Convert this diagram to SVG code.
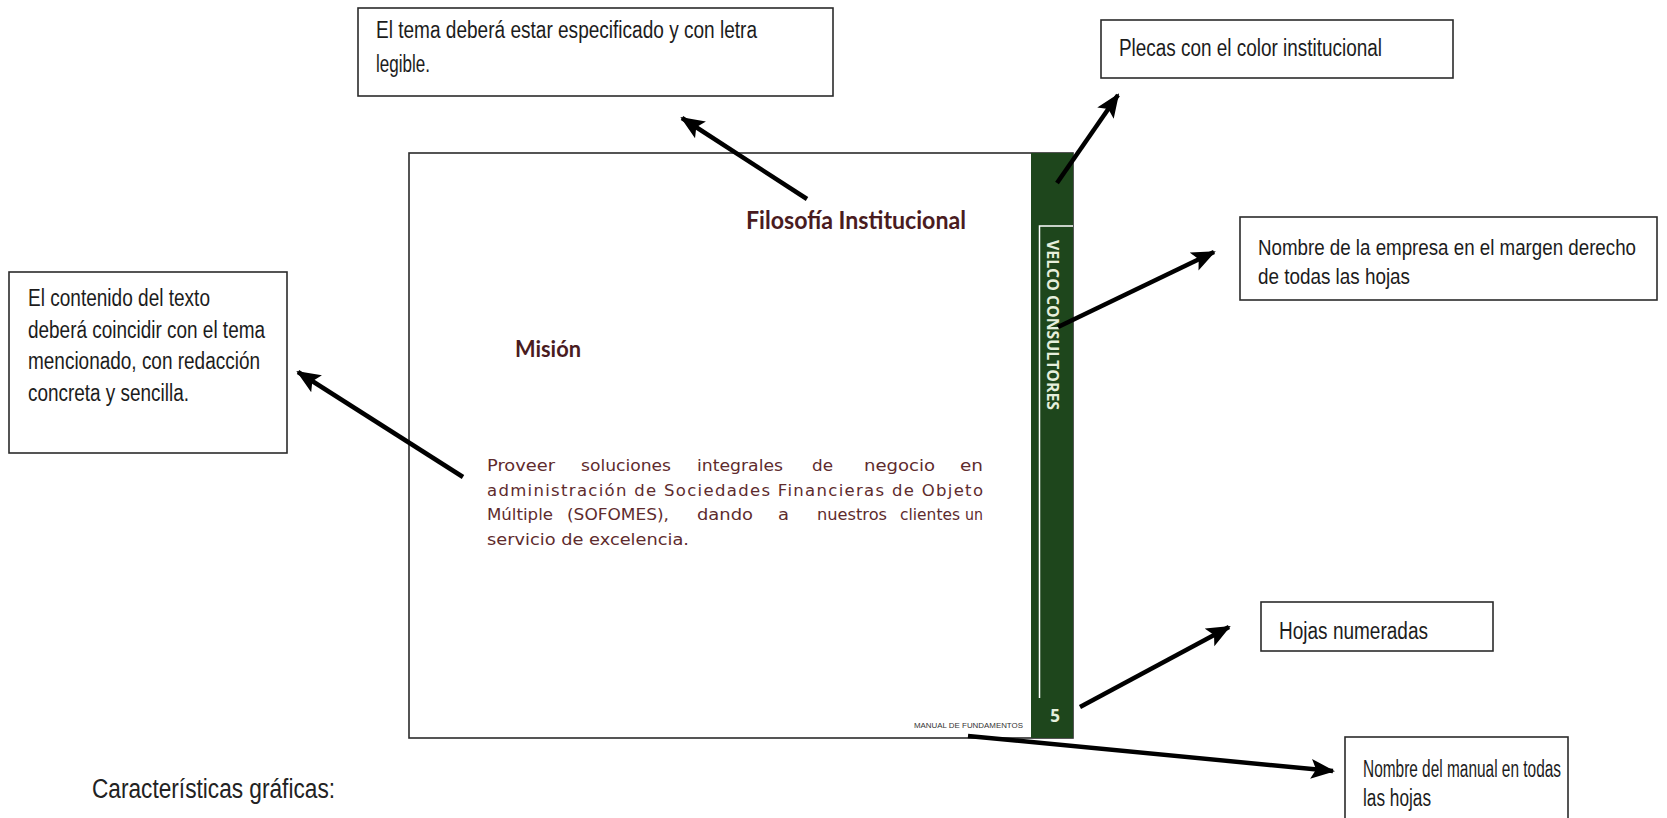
<svg xmlns="http://www.w3.org/2000/svg" width="1667" height="818" viewBox="0 0 1667 818">
  <defs>
    <style>
      .note { fill: #ffffff; stroke: #2b2b2b; stroke-width: 1.6; }
      .nt { font-family: "Liberation Sans", Arial, sans-serif; font-size: 23px; fill: #1c1c1c; }
      .nt22 { font-family: "Liberation Sans", Arial, sans-serif; font-size: 22px; fill: #1c1c1c; }
      .page { fill: #ffffff; stroke: #2b2b2b; stroke-width: 1.6; }
      .bar { fill: #1e461c; }
      .barline { fill: none; stroke: #ffffff; stroke-width: 1.5; }
      .title { font-family: Lato, "Noto Sans", sans-serif; font-weight: 700; fill: #4a1c1f; }
      .body { font-family: "DejaVu Sans", "Noto Sans", sans-serif; font-size: 16.5px; fill: #5e2b2d; }
      .white { font-family: "Open Sans", "Noto Sans", sans-serif; font-weight: 700; fill: #e6efdc; }
      .arrow { fill: none; stroke: #000000; stroke-width: 4.5; marker-end: url(#head); }
    </style>
    <marker id="head" markerUnits="userSpaceOnUse" markerWidth="24" markerHeight="22" viewBox="0 0 24 22" refX="22" refY="11" orient="auto">
      <path d="M0,1 L24,11 L0,21 L5,11 Z" fill="#000000"/>
    </marker>
  </defs>

  <rect width="1667" height="818" fill="#ffffff"/>

  <!-- page mock-up -->
  <g id="page">
    <rect class="page" x="409" y="153" width="664" height="585"/>
    <rect class="bar" x="1031" y="153" width="42" height="585"/>
    <path class="barline" d="M1073,226 H1039.5 V698"/>
    <text class="white" font-size="16" transform="translate(1047,240) rotate(90)" textLength="170" lengthAdjust="spacingAndGlyphs">VELCO CONSULTORES</text>
    <text class="white" font-size="17" x="1055" y="722" text-anchor="middle">5</text>
    <text class="title" font-size="24" x="746" y="229" textLength="220" lengthAdjust="spacingAndGlyphs">Filosofía Institucional</text>
    <text class="title" font-size="22" x="515" y="357" textLength="66" lengthAdjust="spacingAndGlyphs">Misión</text>
    <g class="body">
      <text x="487" y="471" textLength="68" lengthAdjust="spacingAndGlyphs">Proveer</text>
      <text x="581" y="471" textLength="90" lengthAdjust="spacingAndGlyphs">soluciones</text>
      <text x="697" y="471" textLength="86" lengthAdjust="spacingAndGlyphs">integrales</text>
      <text x="812" y="471" textLength="21" lengthAdjust="spacingAndGlyphs">de</text>
      <text x="864" y="471" textLength="71" lengthAdjust="spacingAndGlyphs">negocio</text>
      <text x="960" y="471" textLength="23" lengthAdjust="spacingAndGlyphs">en</text>
      <text x="487" y="496" textLength="496" lengthAdjust="spacing">administración de Sociedades Financieras de Objeto</text>
      <text x="487" y="520" textLength="66" lengthAdjust="spacingAndGlyphs">Múltiple</text>
      <text x="567" y="520" textLength="102" lengthAdjust="spacingAndGlyphs">(SOFOMES),</text>
      <text x="697" y="520" textLength="56" lengthAdjust="spacingAndGlyphs">dando</text>
      <text x="778" y="520" textLength="11" lengthAdjust="spacingAndGlyphs">a</text>
      <text x="817" y="520" textLength="70" lengthAdjust="spacingAndGlyphs">nuestros</text>
      <text x="900" y="520" textLength="60" lengthAdjust="spacingAndGlyphs">clientes</text>
      <text x="965" y="520" textLength="18" lengthAdjust="spacingAndGlyphs">un</text>
      <text x="487" y="545" textLength="202" lengthAdjust="spacingAndGlyphs">servicio de excelencia.</text>
    </g>
    <text x="914" y="728" font-family="Liberation Sans, Arial, sans-serif" font-size="7" fill="#333333" textLength="109" lengthAdjust="spacingAndGlyphs">MANUAL DE FUNDAMENTOS</text>
  </g>

  <!-- annotation boxes -->
  <g id="note-tema">
    <rect class="note" x="358" y="8" width="475" height="88"/>
    <text class="nt" x="376" y="38" textLength="381" lengthAdjust="spacingAndGlyphs">El tema deberá estar especificado y con letra</text>
    <text class="nt" x="376" y="72" textLength="54" lengthAdjust="spacingAndGlyphs">legible.</text>
  </g>

  <g id="note-plecas">
    <rect class="note" x="1101" y="20" width="352" height="58"/>
    <text class="nt" x="1119" y="56" textLength="263" lengthAdjust="spacingAndGlyphs">Plecas con el color institucional</text>
  </g>

  <g id="note-empresa">
    <rect class="note" x="1240" y="217" width="417" height="83"/>
    <text class="nt22" x="1258" y="255" textLength="378" lengthAdjust="spacingAndGlyphs">Nombre de la empresa en el margen derecho</text>
    <text class="nt22" x="1258" y="284" textLength="152" lengthAdjust="spacingAndGlyphs">de todas las hojas</text>
  </g>

  <g id="note-contenido">
    <rect class="note" x="9" y="272" width="278" height="181"/>
    <text class="nt" x="28" y="306" textLength="182" lengthAdjust="spacingAndGlyphs">El contenido del texto</text>
    <text class="nt" x="28" y="338" textLength="237" lengthAdjust="spacingAndGlyphs">deberá coincidir con el tema</text>
    <text class="nt" x="28" y="369" textLength="232" lengthAdjust="spacingAndGlyphs">mencionado, con redacción</text>
    <text class="nt" x="28" y="401" textLength="161" lengthAdjust="spacingAndGlyphs">concreta y sencilla.</text>
  </g>

  <g id="note-hojas">
    <rect class="note" x="1261" y="602" width="232" height="49"/>
    <text class="nt" x="1279" y="639" textLength="149" lengthAdjust="spacingAndGlyphs">Hojas numeradas</text>
  </g>

  <g id="note-manual">
    <rect class="note" x="1345" y="737" width="223" height="95"/>
    <text class="nt" x="1363" y="777" textLength="198" lengthAdjust="spacingAndGlyphs">Nombre del manual en todas</text>
    <text class="nt" x="1363" y="806" textLength="68" lengthAdjust="spacingAndGlyphs">las hojas</text>
  </g>

  <text id="caption" x="92" y="798" font-family="Liberation Sans, Arial, sans-serif" font-size="27" fill="#222222" textLength="243" lengthAdjust="spacingAndGlyphs">Características gráficas:</text>

  <!-- connectors -->
  <g id="connectors">
    <line class="arrow" x1="807" y1="199" x2="682" y2="118"/>
    <line class="arrow" x1="1057" y1="183" x2="1118" y2="95"/>
    <line class="arrow" x1="1058" y1="327" x2="1214" y2="252"/>
    <line class="arrow" x1="1080" y1="707" x2="1229" y2="627"/>
    <line class="arrow" x1="968" y1="736" x2="1333" y2="771"/>
    <line class="arrow" x1="463" y1="477" x2="298" y2="372"/>
  </g>
</svg>
